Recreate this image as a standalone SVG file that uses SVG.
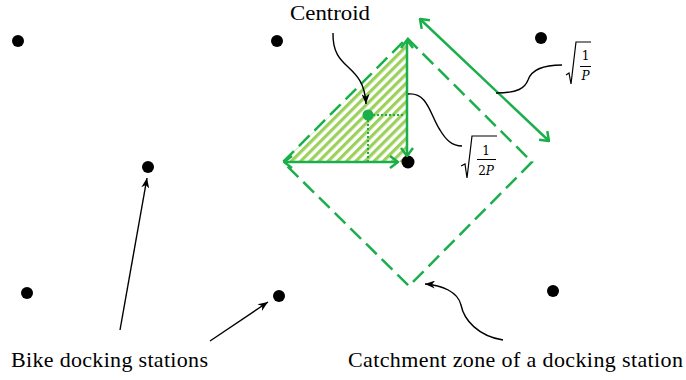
<svg xmlns="http://www.w3.org/2000/svg" width="686" height="380" viewBox="0 0 686 380">
<style>
.dot{fill:#000}
.g{stroke:#1aaf4b;fill:none;stroke-width:2.5}
.lbl{font-family:"Liberation Serif","Times New Roman","DejaVu Serif",serif;font-size:22px;fill:#000}
.math{font-family:"DejaVu Serif","Liberation Serif",serif;font-size:12px;fill:#000}
.blk{stroke:#000;fill:none;stroke-width:1.4}
</style>
<defs>
<pattern id="hatch" width="6.5" height="6.5" patternUnits="userSpaceOnUse" patternTransform="rotate(45)">
<rect width="6.5" height="6.5" fill="#fff"/>
<rect width="3.2" height="6.5" fill="#9bd15a"/>
</pattern>
<marker id="chev" viewBox="0 0 10 14" refX="9" refY="7" markerWidth="10" markerHeight="14" markerUnits="userSpaceOnUse" orient="auto-start-reverse">
<path d="M1,1 L9,7 L1,13" fill="none" stroke="#1aaf4b" stroke-width="2.5"/>
</marker>
<marker id="blkarr" viewBox="0 0 10 8" refX="10" refY="4" markerWidth="11" markerHeight="8" markerUnits="userSpaceOnUse" orient="auto">
<path d="M0,0 L10,4 L0,8 L3,4 Z" fill="#000"/>
</marker>
</defs>

<g id="stations">
<circle id="s1" class="dot" cx="18" cy="41" r="6"/>
<circle id="s2" class="dot" cx="277" cy="41" r="6"/>
<circle id="s3" class="dot" cx="541" cy="38" r="6"/>
<circle id="s4" class="dot" cx="148" cy="167" r="6"/>
<circle id="s6" class="dot" cx="27" cy="293" r="6"/>
<circle id="s7" class="dot" cx="279" cy="296" r="6"/>
<circle id="s8" class="dot" cx="553" cy="291" r="6"/>
</g>

<g id="triangle">
<polygon points="407,40 283,162 407,162" fill="url(#hatch)"/>
</g>

<g id="catchment">
<polygon points="407,38 532,162 409,286 283,162" class="g" stroke-dasharray="15 7"/>
</g>

<g id="center-station">
<circle class="dot" cx="408" cy="162" r="6.5"/>
</g>

<g id="centroid">
<line x1="373" y1="115" x2="405" y2="115" stroke="#1aaf4b" stroke-width="2" stroke-dasharray="2 2"/>
<line x1="368" y1="120" x2="368" y2="161" stroke="#1aaf4b" stroke-width="2" stroke-dasharray="2 2"/>
<circle cx="368" cy="115" r="5.5" fill="#1aaf4b"/>
</g>

<g id="connectors">
<line x1="407" y1="40" x2="407" y2="156" class="g" marker-start="url(#chev)" marker-end="url(#chev)"/>
<line x1="284" y1="162" x2="398" y2="162" class="g" marker-start="url(#chev)" marker-end="url(#chev)"/>
<line x1="420" y1="19" x2="549" y2="141" class="g" marker-start="url(#chev)" marker-end="url(#chev)"/>
<path d="M333,33 C332,72 364,62 366,104" class="blk" marker-end="url(#blkarr)"/>
<path d="M408,94 C428,92 430,115 440,130 C446,140 452,146 462,146" class="blk"/>
<path d="M496,93 C518,93 525,88 528,80 C532,68 548,65 562,65" class="blk"/>
<line x1="120" y1="330" x2="147" y2="178" class="blk" marker-end="url(#blkarr)"/>
<line x1="210" y1="341" x2="268" y2="302" class="blk" marker-end="url(#blkarr)"/>
<path d="M503,340 C478,336 464,320 461,305 C458,292 442,285 425,284" class="blk" marker-end="url(#blkarr)"/>
</g>

<g id="labels">
<text class="lbl" x="290" y="20" textLength="80" lengthAdjust="spacingAndGlyphs">Centroid</text>
<text class="lbl" x="11" y="367" textLength="197" lengthAdjust="spacing">Bike docking stations</text>
<text class="lbl" x="348" y="367" textLength="335" lengthAdjust="spacing">Catchment zone of a docking station</text>
</g>

<g id="sqrt-2p">
<path d="M461,166 L465,164 L467,178 L472,136 L497,136" fill="none" stroke="#000" stroke-width="1.2"/>
<text class="math" x="486" y="155" text-anchor="middle">1</text>
<line x1="477" y1="159.5" x2="496" y2="159.5" stroke="#000" stroke-width="1"/>
<text class="math" x="486" y="175" text-anchor="middle">2<tspan font-style="italic">P</tspan></text>
</g>

<g id="sqrt-p">
<path d="M566,75 L569,73 L571,84 L576,42 L591,42" fill="none" stroke="#000" stroke-width="1.2"/>
<text class="math" x="585.5" y="60" text-anchor="middle" font-size="11">1</text>
<line x1="580" y1="66.5" x2="591" y2="66.5" stroke="#000" stroke-width="1"/>
<text class="math" x="585.5" y="80" text-anchor="middle" font-size="11" font-style="italic">P</text>
</g>
</svg>
